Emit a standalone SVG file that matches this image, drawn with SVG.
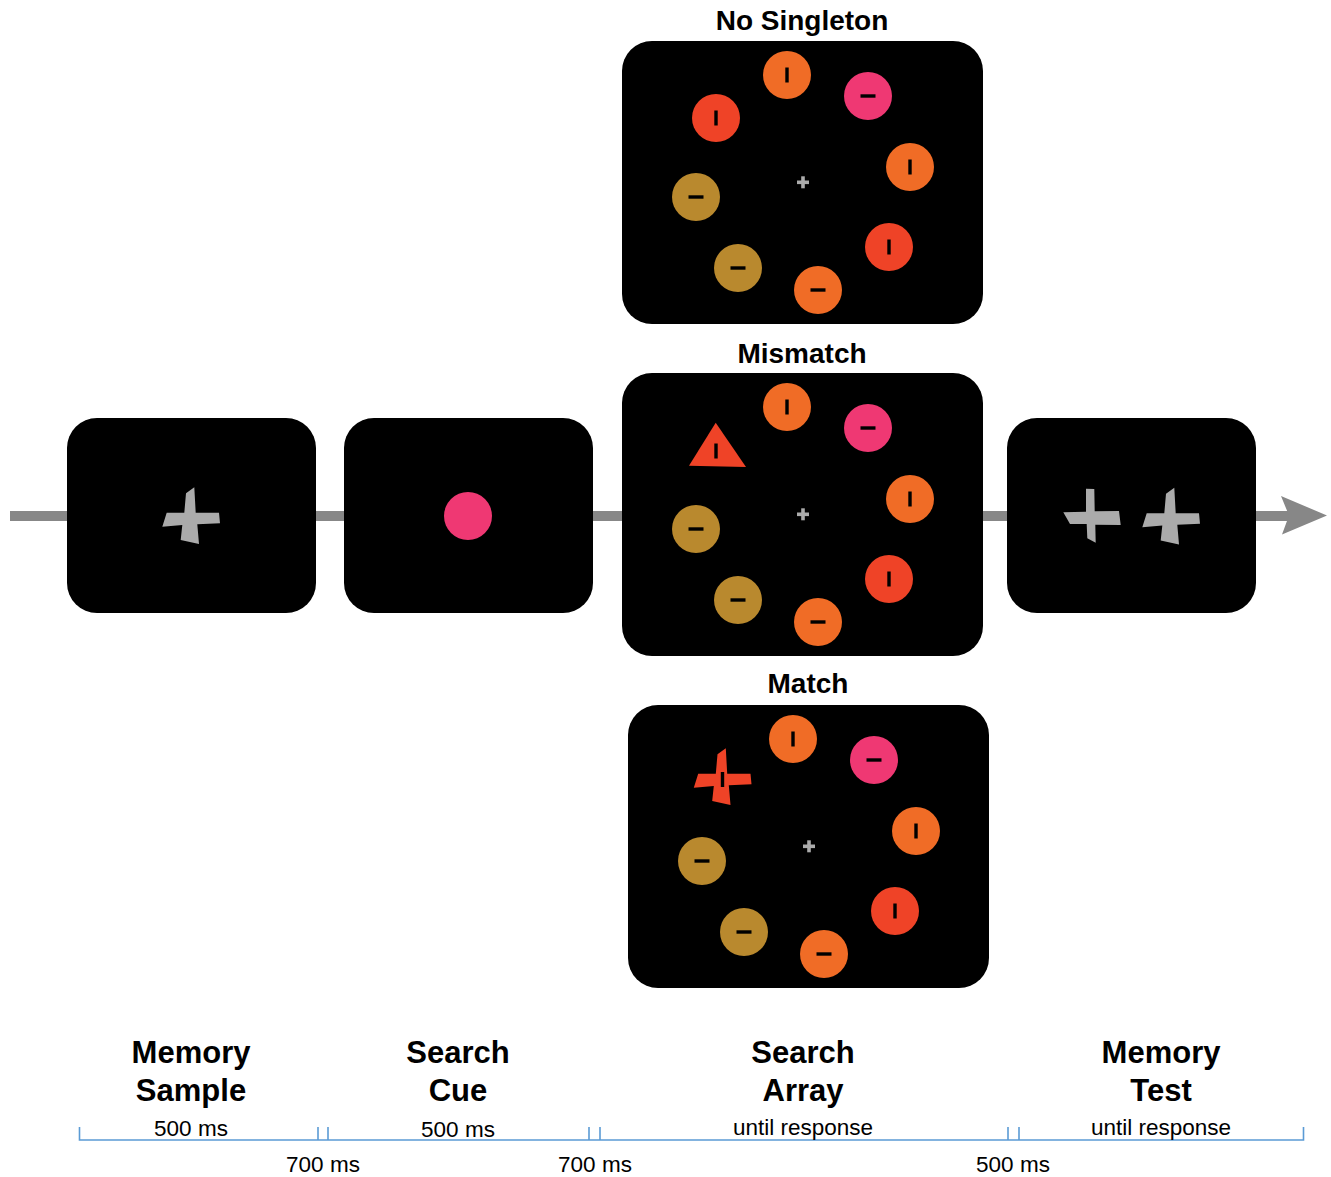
<svg xmlns="http://www.w3.org/2000/svg" xmlns:xlink="http://www.w3.org/1999/xlink" width="1331" height="1177" viewBox="0 0 1331 1177">
<style>
.box{fill:#000}
.title{font-family:"Liberation Sans",Arial,sans-serif;font-weight:bold;font-size:28px;fill:#000;text-anchor:middle}
.lab{font-family:"Liberation Sans",Arial,sans-serif;font-weight:bold;font-size:31px;fill:#000;text-anchor:middle}
.dur{font-family:"Liberation Sans",Arial,sans-serif;font-size:22.5px;fill:#000;text-anchor:middle}
.tl{fill:none;stroke:#5B9BD5;stroke-width:1.6}
.or{fill:#F06C26}.pk{fill:#EF3873}.rd{fill:#EF4327}.tn{fill:#B9892E}
.gray{fill:#ABABAB}
.bar{fill:#000}
</style>
<defs>
<rect id="vb" class="bar" x="-1.7" y="-7.5" width="3.4" height="15"/>
<rect id="hb" class="bar" x="-7.5" y="-1.7" width="15" height="3.4"/>
<path id="probe" d="M-5,-24.7 L3.3,-30.7 L4.7,-5.3 L28,-5.3 L29,5.3 L6.3,6.3 L8,26 L-10.3,22 L-8.7,7 L-28.7,8.7 L-24.3,-5.3 L-6.7,-5.3 Z"/>
<g id="fix"><rect class="gray" x="797" y="180.5" width="12" height="3.6"/><rect class="gray" x="801.2" y="176.3" width="3.6" height="12"/></g>
<g id="common">
<circle class="or" cx="787" cy="75" r="24"/><use xlink:href="#vb" x="787" y="75"/>
<circle class="pk" cx="868" cy="96" r="24"/><use xlink:href="#hb" x="868" y="96"/>
<circle class="or" cx="910" cy="167" r="24"/><use xlink:href="#vb" x="910" y="167"/>
<circle class="tn" cx="696" cy="197" r="24"/><use xlink:href="#hb" x="696" y="197"/>
<circle class="rd" cx="889" cy="247" r="24"/><use xlink:href="#vb" x="889" y="247"/>
<circle class="tn" cx="738" cy="268" r="24"/><use xlink:href="#hb" x="738" y="268"/>
<circle class="or" cx="818" cy="290" r="24"/><use xlink:href="#hb" x="818" y="290"/>
<use xlink:href="#fix"/>
</g>
</defs>

<g id="connectors">
<rect x="10" y="511" width="1280" height="10" fill="#878787"/>
<polygon points="1281,496 1327,515.5 1282,534.5 1289,515.5" fill="#878787"/>
</g>

<g id="memory-sample">
<rect class="box" x="67" y="418" width="249" height="195" rx="30"/>
<use xlink:href="#probe" class="gray" transform="translate(191,518)"/>
</g>

<g id="search-cue">
<rect class="box" x="344" y="418" width="249" height="195" rx="30"/>
<circle class="pk" cx="468" cy="516" r="24"/>
</g>

<g id="no-singleton">
<text class="title" x="802" y="30">No Singleton</text>
<rect class="box" x="622" y="41" width="361" height="283" rx="30"/>
<use xlink:href="#common"/>
<circle class="rd" cx="716" cy="118" r="24"/><use xlink:href="#vb" x="716" y="118"/>
</g>

<g id="mismatch">
<text class="title" x="802" y="363">Mismatch</text>
<rect class="box" x="622" y="373" width="361" height="283" rx="30"/>
<use xlink:href="#common" transform="translate(0,332)"/>
<polygon class="rd" points="715.7,422.7 689,465.7 746,467"/>
<use xlink:href="#vb" x="716" y="451"/>
</g>

<g id="match">
<text class="title" x="808" y="693">Match</text>
<rect class="box" x="628" y="705" width="361" height="283" rx="30"/>
<use xlink:href="#common" transform="translate(6,664)"/>
<use xlink:href="#probe" class="rd" transform="translate(722.5,779)"/>
<use xlink:href="#vb" x="722.5" y="779.5"/>
</g>

<g id="memory-test">
<rect class="box" x="1007" y="418" width="249" height="195" rx="30"/>
<path class="gray" d="M1086,488.7 L1094.3,489 L1094.7,511.3 L1119,511 L1120.7,525 L1095.3,524.7 L1095.7,542.7 L1087.3,538.3 L1086.7,524 L1070,524 L1063.3,512.3 L1086,511.7 Z"/>
<use xlink:href="#probe" class="gray" transform="translate(1171,518.5)"/>
</g>

<g id="labels">
<text class="lab" x="191" y="1063">Memory</text>
<text class="lab" x="191" y="1101">Sample</text>
<text class="lab" x="458" y="1063">Search</text>
<text class="lab" x="458" y="1101">Cue</text>
<text class="lab" x="803" y="1063">Search</text>
<text class="lab" x="803" y="1101">Array</text>
<text class="lab" x="1161" y="1063">Memory</text>
<text class="lab" x="1161" y="1101">Test</text>
</g>

<g id="timeline">
<path class="tl" d="M79.5,1127 V1140 H1303.5 V1127 M318,1127 V1140 M328,1127 V1140 M589,1127 V1140 M600,1127 V1140 M1008,1127 V1140 M1019,1127 V1140"/>
<text class="dur" x="191" y="1136">500 ms</text>
<text class="dur" x="458" y="1137">500 ms</text>
<text class="dur" x="803" y="1135">until response</text>
<text class="dur" x="1161" y="1135">until response</text>
<text class="dur" x="323" y="1172">700 ms</text>
<text class="dur" x="595" y="1172">700 ms</text>
<text class="dur" x="1013" y="1172">500 ms</text>
</g>
</svg>
